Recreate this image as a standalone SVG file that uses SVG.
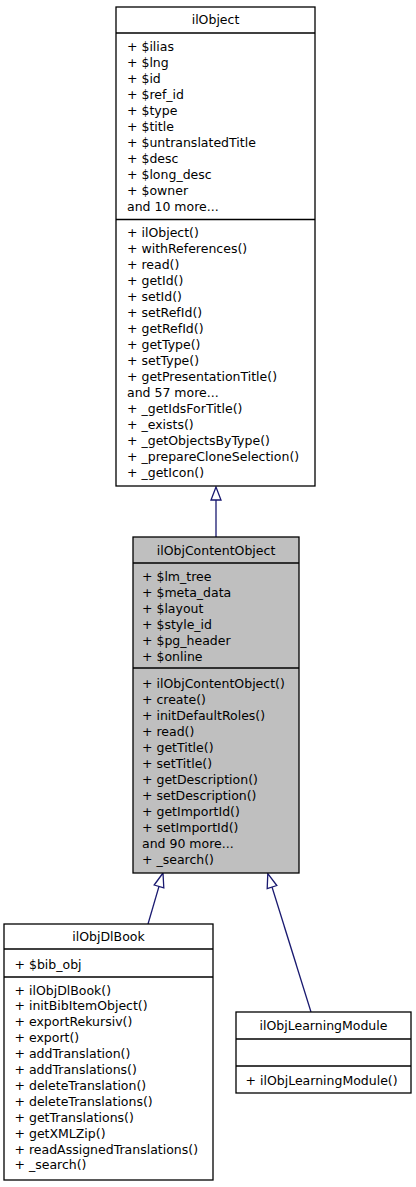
<svg xmlns="http://www.w3.org/2000/svg" width="416" height="1187" viewBox="0 0 416 1187">
<style>
.box{fill:#ffffff;stroke:#000000;stroke-width:1.3}
.cur{fill:#bfbfbf;stroke:#000000;stroke-width:1.3}
.sep{stroke:#000000;stroke-width:1.3}
text{font-family:"DejaVu Sans","Liberation Sans",sans-serif;font-size:12.5px;fill:#000000}
.t{text-anchor:middle}
.edge{stroke:#191970;stroke-width:1.3;fill:none}
.head{stroke:#191970;stroke-width:1.3;fill:#ffffff}
</style>
<rect width="416" height="1187" fill="#ffffff"/>
<g id="connectors">
<line class="edge" x1="216" y1="500" x2="216" y2="537"/>
<polygon class="head" points="216,487 211,500 221,500"/>
<line class="edge" x1="159" y1="886.4" x2="148" y2="924"/>
<polygon class="head" points="163,873 154.2,885 163.8,887.8"/>
<line class="edge" x1="272" y1="887" x2="311" y2="1012"/>
<polygon class="head" points="267.8,873.6 267.2,888.5 276.8,885.5"/>
</g>
<g id="ilObject">
<rect class="box" x="116" y="7" width="199" height="479"/>
<line class="sep" x1="116" y1="33" x2="315" y2="33"/>
<line class="sep" x1="116" y1="219.5" x2="315" y2="219.5"/>
<text class="t" x="215.5" y="24">ilObject</text>
<text x="127" y="51">+ $ilias</text>
<text x="127" y="67">+ $lng</text>
<text x="127" y="83">+ $id</text>
<text x="127" y="99">+ $ref_id</text>
<text x="127" y="115">+ $type</text>
<text x="127" y="131">+ $title</text>
<text x="127" y="147">+ $untranslatedTitle</text>
<text x="127" y="163">+ $desc</text>
<text x="127" y="179">+ $long_desc</text>
<text x="127" y="195">+ $owner</text>
<text x="127" y="211">and 10 more...</text>
<text x="127" y="236.5">+ ilObject()</text>
<text x="127" y="252.5">+ withReferences()</text>
<text x="127" y="268.5">+ read()</text>
<text x="127" y="284.5">+ getId()</text>
<text x="127" y="300.5">+ setId()</text>
<text x="127" y="316.5">+ setRefId()</text>
<text x="127" y="332.5">+ getRefId()</text>
<text x="127" y="348.5">+ getType()</text>
<text x="127" y="364.5">+ setType()</text>
<text x="127" y="380.5">+ getPresentationTitle()</text>
<text x="127" y="396.5">and 57 more...</text>
<text x="127" y="412.5">+ _getIdsForTitle()</text>
<text x="127" y="428.5">+ _exists()</text>
<text x="127" y="444.5">+ _getObjectsByType()</text>
<text x="127" y="460.5">+ _prepareCloneSelection()</text>
<text x="127" y="476.5">+ _getIcon()</text>
</g>
<g id="ilObjContentObject">
<rect class="cur" x="133" y="537" width="166" height="336"/>
<line class="sep" x1="133" y1="563" x2="299" y2="563"/>
<line class="sep" x1="133" y1="668" x2="299" y2="668"/>
<text class="t" x="216" y="555">ilObjContentObject</text>
<text x="142" y="581">+ $lm_tree</text>
<text x="142" y="597">+ $meta_data</text>
<text x="142" y="613">+ $layout</text>
<text x="142" y="629">+ $style_id</text>
<text x="142" y="645">+ $pg_header</text>
<text x="142" y="661">+ $online</text>
<text x="142" y="688">+ ilObjContentObject()</text>
<text x="142" y="704">+ create()</text>
<text x="142" y="720">+ initDefaultRoles()</text>
<text x="142" y="736">+ read()</text>
<text x="142" y="752">+ getTitle()</text>
<text x="142" y="768">+ setTitle()</text>
<text x="142" y="784">+ getDescription()</text>
<text x="142" y="800">+ setDescription()</text>
<text x="142" y="816">+ getImportId()</text>
<text x="142" y="832">+ setImportId()</text>
<text x="142" y="848">and 90 more...</text>
<text x="142" y="864">+ _search()</text>
</g>
<g id="ilObjDlBook">
<rect class="box" x="4" y="924" width="209" height="256"/>
<line class="sep" x1="4" y1="949" x2="213" y2="949"/>
<line class="sep" x1="4" y1="977" x2="213" y2="977"/>
<text class="t" x="108.5" y="941">ilObjDlBook</text>
<text x="14.5" y="968.5">+ $bib_obj</text>
<text x="14.5" y="994.5">+ ilObjDlBook()</text>
<text x="14.5" y="1010.4">+ initBibItemObject()</text>
<text x="14.5" y="1026.3">+ exportRekursiv()</text>
<text x="14.5" y="1042.2">+ export()</text>
<text x="14.5" y="1058.1">+ addTranslation()</text>
<text x="14.5" y="1074">+ addTranslations()</text>
<text x="14.5" y="1089.9">+ deleteTranslation()</text>
<text x="14.5" y="1105.8">+ deleteTranslations()</text>
<text x="14.5" y="1121.7">+ getTranslations()</text>
<text x="14.5" y="1137.6">+ getXMLZip()</text>
<text x="14.5" y="1153.5">+ readAssignedTranslations()</text>
<text x="14.5" y="1169.4">+ _search()</text>
</g>
<g id="ilObjLearningModule">
<rect class="box" x="236" y="1012" width="175" height="81"/>
<line class="sep" x1="236" y1="1039" x2="411" y2="1039"/>
<line class="sep" x1="236" y1="1066" x2="411" y2="1066"/>
<text class="t" x="323.5" y="1029.5">ilObjLearningModule</text>
<text x="245.5" y="1084.5">+ ilObjLearningModule()</text>
</g>
</svg>
